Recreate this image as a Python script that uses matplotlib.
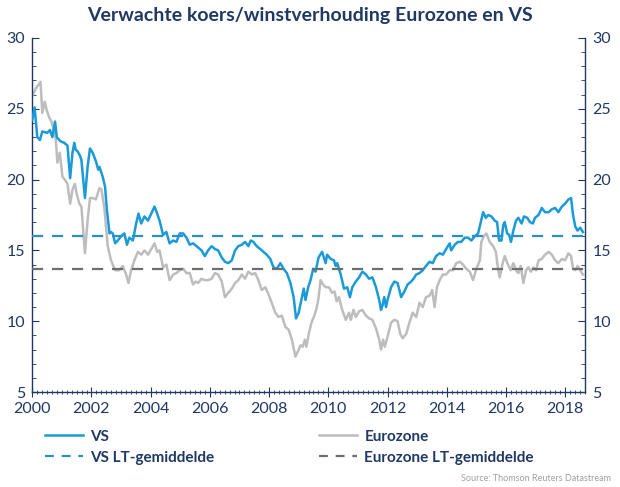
import matplotlib
matplotlib.use("Agg")
import matplotlib.pyplot as plt
from matplotlib.lines import Line2D
from matplotlib.ticker import MultipleLocator

# ------------------------------------------------------------------
# Data (forward P/E)
# ------------------------------------------------------------------
us_dates = [
    2000.00, 2000.08, 2000.17, 2000.26, 2000.34, 2000.51, 2000.60, 2000.68, 2000.77, 2000.83,
    2000.91, 2000.96, 2001.08, 2001.19, 2001.28, 2001.36, 2001.42, 2001.47, 2001.53, 2001.61,
    2001.66, 2001.78, 2001.87, 2001.95, 2002.04, 2002.15, 2002.23, 2002.27, 2002.38, 2002.46,
    2002.52, 2002.61, 2002.66, 2002.72, 2002.80, 2002.89, 2003.00, 2003.11, 2003.20, 2003.28,
    2003.40, 2003.51, 2003.59, 2003.68, 2003.79, 2003.91, 2004.02, 2004.13, 2004.22, 2004.30,
    2004.42, 2004.53, 2004.64, 2004.76, 2004.87, 2004.98, 2005.10, 2005.21, 2005.32, 2005.43,
    2005.55, 2005.72, 2005.83, 2005.94, 2006.06, 2006.17, 2006.28, 2006.40, 2006.51, 2006.62,
    2006.74, 2006.85, 2006.96, 2007.08, 2007.19, 2007.30, 2007.38, 2007.47, 2007.58, 2007.70,
    2007.81, 2007.92, 2008.04, 2008.15, 2008.26, 2008.38, 2008.49, 2008.60, 2008.72, 2008.83,
    2008.91, 2009.00, 2009.09, 2009.17, 2009.23, 2009.32, 2009.40, 2009.49, 2009.57, 2009.67,
    2009.79, 2009.91, 2009.96, 2010.08, 2010.19, 2010.25, 2010.30, 2010.42, 2010.53, 2010.64,
    2010.73, 2010.81, 2010.93, 2011.04, 2011.15, 2011.27, 2011.38, 2011.49, 2011.61, 2011.72,
    2011.78, 2011.83, 2011.89, 2011.95, 2012.00, 2012.12, 2012.23, 2012.34, 2012.46, 2012.57,
    2012.68, 2012.80, 2012.88, 2012.97, 2013.08, 2013.19, 2013.30, 2013.42, 2013.53, 2013.64,
    2013.76, 2013.87, 2013.98, 2014.10, 2014.15, 2014.27, 2014.38, 2014.49, 2014.61, 2014.72,
    2014.83, 2014.95, 2015.06, 2015.14, 2015.23, 2015.32, 2015.40, 2015.51, 2015.62, 2015.70,
    2015.77, 2015.85, 2015.91, 2015.96, 2016.04, 2016.11, 2016.17, 2016.25, 2016.34, 2016.42,
    2016.53, 2016.61, 2016.72, 2016.81, 2016.91, 2016.98, 2017.10, 2017.21, 2017.32, 2017.44,
    2017.55, 2017.66, 2017.77, 2017.89, 2018.00, 2018.11, 2018.20, 2018.26, 2018.34, 2018.42,
    2018.51, 2018.60,
]
us_pe = [
    24.2, 25.1, 23.0, 22.8, 23.4, 23.3, 23.5, 23.0, 24.1, 23.0,
    22.8, 22.7, 22.6, 22.4, 20.1, 21.9, 22.6, 22.1, 22.0, 21.7,
    21.4, 18.7, 20.9, 22.2, 21.9, 21.3, 20.7, 20.9, 20.2, 19.5,
    17.9, 16.2, 16.3, 16.2, 15.5, 15.7, 16.0, 16.2, 15.4, 15.9,
    15.7, 16.9, 17.6, 16.9, 17.4, 17.1, 17.6, 18.1, 17.6, 17.1,
    16.1, 16.3, 15.5, 15.7, 15.6, 16.2, 16.2, 15.9, 15.4, 15.5,
    15.3, 15.0, 14.6, 15.0, 15.3, 15.1, 15.0, 14.5, 14.2, 14.1,
    14.3, 15.0, 15.3, 15.4, 15.6, 15.3, 15.7, 15.6, 15.3, 15.1,
    14.9, 14.7, 14.4, 13.8, 13.7, 14.1, 13.7, 13.4, 12.7, 11.7,
    10.2, 10.6, 11.5, 12.3, 11.5, 12.4, 12.9, 13.7, 13.5, 14.5,
    14.9, 14.1, 14.7, 14.4, 14.3, 13.9, 14.1, 13.3, 12.3, 12.4,
    11.7, 12.4, 12.8, 13.1, 13.5, 13.3, 13.0, 13.1, 12.4, 11.5,
    10.8, 11.1, 11.7, 11.0, 11.5, 12.4, 12.8, 12.7, 11.7, 12.1,
    12.6, 12.8, 13.0, 13.3, 13.4, 13.6, 13.9, 14.2, 14.1, 14.6,
    14.8, 14.7, 15.1, 15.5, 15.0, 15.4, 15.6, 15.6, 15.9, 15.9,
    15.7, 16.0, 16.2, 16.9, 17.7, 17.3, 17.5, 17.4, 17.1, 17.0,
    15.7, 15.7, 16.8, 17.0, 16.2, 16.1, 15.6, 16.4, 17.1, 17.3,
    16.9, 17.4, 17.3, 17.0, 16.9, 17.3, 17.5, 18.0, 17.7, 17.7,
    17.9, 18.0, 17.7, 18.1, 18.3, 18.6, 18.7, 17.6, 16.7, 16.4,
    16.6, 16.3,
]

ez_dates = [
    2000.00, 2000.11, 2000.28, 2000.34, 2000.42, 2000.49, 2000.57, 2000.65, 2000.74, 2000.79,
    2000.85, 2000.93, 2001.02, 2001.10, 2001.19, 2001.28, 2001.36, 2001.44, 2001.50, 2001.59,
    2001.66, 2001.78, 2001.87, 2001.95, 2002.04, 2002.15, 2002.27, 2002.34, 2002.44, 2002.55,
    2002.66, 2002.80, 2002.94, 2003.06, 2003.17, 2003.25, 2003.34, 2003.45, 2003.57, 2003.68,
    2003.79, 2003.91, 2004.02, 2004.13, 2004.22, 2004.30, 2004.42, 2004.53, 2004.64, 2004.76,
    2004.87, 2004.98, 2005.10, 2005.21, 2005.32, 2005.43, 2005.52, 2005.60, 2005.72, 2005.83,
    2005.94, 2006.06, 2006.17, 2006.28, 2006.40, 2006.51, 2006.62, 2006.74, 2006.85, 2006.96,
    2007.08, 2007.19, 2007.30, 2007.42, 2007.53, 2007.64, 2007.75, 2007.87, 2007.98, 2008.09,
    2008.21, 2008.32, 2008.43, 2008.55, 2008.66, 2008.77, 2008.89, 2008.98, 2009.06, 2009.14,
    2009.21, 2009.26, 2009.34, 2009.43, 2009.51, 2009.59, 2009.66, 2009.74, 2009.82, 2009.91,
    2010.02, 2010.13, 2010.21, 2010.28, 2010.36, 2010.47, 2010.59, 2010.70, 2010.76, 2010.85,
    2010.93, 2011.04, 2011.15, 2011.27, 2011.38, 2011.49, 2011.61, 2011.72, 2011.78, 2011.85,
    2011.91, 2012.00, 2012.12, 2012.23, 2012.34, 2012.43, 2012.51, 2012.63, 2012.74, 2012.85,
    2012.97, 2013.08, 2013.19, 2013.30, 2013.42, 2013.51, 2013.59, 2013.67, 2013.76, 2013.87,
    2013.98, 2014.10, 2014.21, 2014.32, 2014.44, 2014.55, 2014.66, 2014.78, 2014.89, 2015.00,
    2015.12, 2015.17, 2015.25, 2015.34, 2015.45, 2015.57, 2015.66, 2015.74, 2015.79, 2015.89,
    2015.96, 2016.05, 2016.16, 2016.25, 2016.34, 2016.42, 2016.50, 2016.59, 2016.68, 2016.76,
    2016.84, 2016.93, 2017.02, 2017.10, 2017.21, 2017.32, 2017.44, 2017.55, 2017.66, 2017.77,
    2017.89, 2018.00, 2018.11, 2018.20, 2018.26, 2018.34, 2018.42, 2018.51, 2018.60,
]
ez_pe = [
    25.9, 26.4, 26.9, 24.7, 25.5, 24.9, 24.4, 24.1, 23.4, 23.0,
    21.2, 21.9, 20.2, 20.0, 19.7, 18.3, 19.3, 19.7, 19.0, 18.3,
    18.1, 14.8, 17.1, 18.7, 18.7, 18.6, 19.4, 19.3, 17.9, 15.3,
    14.3, 13.6, 13.6, 13.9, 13.3, 12.7, 13.6, 14.3, 14.9, 14.7,
    15.0, 14.7, 15.1, 15.5, 14.9, 15.0, 13.8, 14.0, 12.9, 13.3,
    13.4, 13.6, 13.7, 13.4, 13.4, 12.6, 12.8, 12.7, 13.0, 12.9,
    12.9, 13.0, 13.4, 13.3, 12.8, 11.7, 12.0, 12.3, 12.7, 12.9,
    13.3, 13.0, 13.5, 13.3, 13.4, 12.9, 12.2, 12.4, 11.9, 11.3,
    10.6, 10.3, 10.4, 9.6, 9.4, 8.7, 7.5, 7.9, 8.3, 8.2,
    8.7, 8.2, 9.1, 9.9, 10.3, 10.8, 11.5, 12.9, 12.6, 12.4,
    12.4, 12.0, 12.1, 11.4, 11.7, 10.8, 10.1, 10.6, 10.1, 10.8,
    10.3, 10.7, 10.8, 10.4, 10.2, 10.1, 9.5, 8.7, 8.0, 8.7,
    8.2, 8.9, 9.9, 10.1, 10.0, 9.1, 8.8, 9.1, 9.9, 10.6,
    10.3, 11.3, 11.0, 11.7, 11.8, 12.2, 11.0, 12.4, 12.9, 13.3,
    13.3, 13.6, 13.6, 14.1, 14.2, 14.0, 13.7, 13.5, 12.9, 13.7,
    14.3, 15.6, 16.0, 16.2, 15.6, 15.3, 14.9, 13.6, 13.1, 14.1,
    14.6, 14.1, 13.6, 14.1, 13.6, 13.4, 13.9, 12.7, 13.6, 13.8,
    13.5, 13.8, 13.6, 14.3, 14.4, 14.7, 14.9, 14.7, 14.3, 14.1,
    14.4, 14.3, 14.8, 14.6, 13.8, 13.6, 13.9, 13.6, 13.3,
]

us_lt_avg = 16.0
ez_lt_avg = 13.7

labels = ["VS", "VS LT-gemiddelde", "Eurozone", "Eurozone LT-gemiddelde"]
title = "Verwachte koers/winstverhouding Eurozone en VS"
source = "Source: Thomson Reuters Datastream"

# ------------------------------------------------------------------
# Styling
# ------------------------------------------------------------------
NAVY = "#1f3864"
BLUE = "#1b9ad8"
BLUE_DASH = "#2a8fd0"
GREY = "#bdbdbd"
GREY_DASH = "#6e6e6e"

plt.rcParams["font.family"] = ["Lato", "DejaVu Sans"]

fig = plt.figure(figsize=(6.2, 4.87), dpi=100)
ax = fig.add_axes([0.052, 0.195, 0.892, 0.727])

ax.plot(ez_dates, ez_pe, color=GREY, lw=1.8, zorder=2)
ax.plot(us_dates, us_pe, color=BLUE, lw=1.8, zorder=3)
ax.axhline(us_lt_avg, color=BLUE_DASH, lw=1.6, dashes=(5, 4), zorder=4)
ax.axhline(ez_lt_avg, color=GREY_DASH, lw=1.6, dashes=(5, 4), zorder=4)

ax.set_xlim(2000, 2018.68)
ax.set_ylim(5, 30)
ax.xaxis.set_major_locator(MultipleLocator(2))
ax.xaxis.set_minor_locator(MultipleLocator(1 / 6))
ax.yaxis.set_major_locator(MultipleLocator(5))
ax.yaxis.set_minor_locator(MultipleLocator(1))

for side in ["left", "right", "bottom"]:
    ax.spines[side].set_color(NAVY)
    ax.spines[side].set_linewidth(1.0)
ax.spines["top"].set_visible(False)

ax.tick_params(axis="y", which="both", direction="in", colors=NAVY,
               left=True, right=True, labelleft=True, labelright=True,
               labelsize=11.5, pad=5)
ax.tick_params(axis="y", which="major", length=5)
ax.tick_params(axis="y", which="minor", length=3)
ax.tick_params(axis="x", which="both", direction="inout", colors=NAVY,
               labelsize=11.5, pad=4)
ax.tick_params(axis="x", which="major", length=7)
ax.tick_params(axis="x", which="minor", length=3)
ax.set_xticklabels([str(int(t)) for t in ax.get_xticks()])

fig.text(0.5, 0.968, title, ha="center", va="center", fontsize=14,
         fontweight="bold", color=NAVY)

h_us = Line2D([], [], color=BLUE, lw=1.8)
h_us_lt = Line2D([], [], color=BLUE_DASH, lw=1.6, dashes=(4, 3.5))
h_ez = Line2D([], [], color=GREY, lw=1.8)
h_ez_lt = Line2D([], [], color=GREY_DASH, lw=1.6, dashes=(4, 3.5))

leg_kw = dict(frameon=False, loc="upper left", fontsize=11, handlelength=2.5,
              handletextpad=0.45, labelspacing=0.45, borderaxespad=0)
leg1 = fig.legend([h_us, h_us_lt], labels[:2], bbox_to_anchor=(0.062, 0.13), **leg_kw)
leg2 = fig.legend([h_ez, h_ez_lt], labels[2:], bbox_to_anchor=(0.505, 0.13), **leg_kw)
for leg in (leg1, leg2):
    for t in leg.get_texts():
        t.set_color(NAVY)
        t.set_fontweight("bold")

fig.text(0.985, 0.018, source, ha="right", va="center", fontsize=6.5, color="#a0a0a0")

fig.savefig("out.png", dpi=100)
